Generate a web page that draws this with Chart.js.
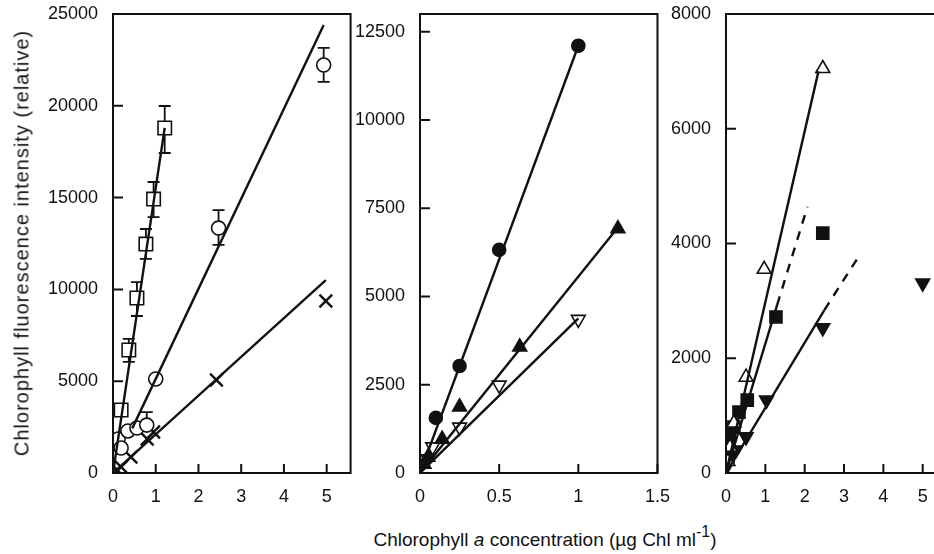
<!DOCTYPE html>
<html>
<head>
<meta charset="utf-8">
<script src="https://cdn.jsdelivr.net/npm/chart.js@4"></script>
<style>
  body { margin: 0; background: #fff; overflow: hidden; }
  #wrap { position: relative; width: 934px; height: 554px; overflow: hidden; font-family: "Liberation Sans", Arial, sans-serif; color: #111; }
  canvas { position: absolute; top: 0; }
  #ytitle { position: absolute; left: 22px; top: 243px; transform: translate(-50%, -50%) rotate(-90deg); white-space: nowrap; font-size: 20px; letter-spacing: 1px; }
  #xtitle { position: absolute; left: 545px; top: 525px; transform: translateX(-50%); white-space: nowrap; font-size: 19px; }
  #xtitle sup { font-size: 16px; position: relative; top: -2px; }
</style>
</head>
<body>
<div id="wrap">
  <canvas id="c1" width="362" height="510" style="left:0px"></canvas>
  <canvas id="c2" width="325" height="510" style="left:350px"></canvas>
  <canvas id="c3" width="285" height="510" style="left:660px"></canvas>
  <div id="ytitle">Chlorophyll fluorescence intensity (relative)</div>
  <div id="xtitle">Chlorophyll <i>a</i> concentration (µg Chl ml<sup>-1</sup>)</div>
</div>
<script>
// panel 1
var p1xTicks = [0, 1, 2, 3, 4, 5];
var p1yTicks = [0, 5000, 10000, 15000, 20000, 25000];
var sqX = [0.19, 0.37, 0.56, 0.77, 0.95, 1.21];
var sqY = [3430, 6700, 9530, 12470, 14920, 18790];
var sqHi = [null, 7300, 10400, 13290, 15850, 19990];
var sqLo = [null, 6050, 8550, 11660, 13940, 17430];
var ciX = [0.12, 0.19, 0.35, 0.56, 0.79, 1.0, 2.47, 4.93];
var ciY = [1850, 1360, 2290, 2450, 2610, 5120, 13340, 22220];
var ciHi = [null, null, null, null, 3320, null, 14320, 23150];
var ciLo = [null, null, null, null, null, null, 12420, 21300];
var crX = [0.1, 0.19, 0.42, 0.8, 0.95, 2.42, 4.98];
var crY = [160, 330, 870, 1850, 2230, 5070, 9370];
var sqFitX = [0, 1.21], sqFitY = [0, 18800];
var ciFitX = [0.45, 4.93], ciFitY = [2430, 24400];
var crFitX = [0, 4.98], crFitY = [0, 10500];

// panel 2
var p2xTicks = [0, 0.5, 1, 1.5];
var p2yTicks = [0, 2500, 5000, 7500, 10000, 12500];
var fcX = [0.1, 0.25, 0.5, 1.0];
var fcY = [1560, 3030, 6320, 12100];
var ftX = [0.025, 0.05, 0.14, 0.25, 0.63, 1.25];
var ftY = [250, 450, 960, 1870, 3570, 6920];
var odX = [0.05, 0.08, 0.25, 0.5, 1.0];
var odY = [400, 740, 1300, 2490, 4350];
var fcFitX = [0, 1.0], fcFitY = [0, 12100];
var ftFitX = [0, 1.25], ftFitY = [0, 6950];
var odFitX = [0, 1.0], odFitY = [0, 4380];

// panel 3
var p3xTicks = [0, 1, 2, 3, 4, 5];
var p3yTicks = [0, 2000, 4000, 6000, 8000];
var otX = [0.05, 0.1, 0.2, 0.51, 0.97, 2.46];
var otY = [200, 450, 870, 1670, 3550, 7050];
var fsX = [0.04, 0.08, 0.2, 0.33, 0.54, 1.27, 2.46];
var fsY = [280, 570, 800, 1060, 1270, 2720, 4180];
var fdX = [0.03, 0.1, 0.25, 0.51, 1.03, 2.46, 5.0];
var fdY = [130, 250, 400, 630, 1270, 2530, 3310];
var otFitX = [0, 2.35], otFitY = [0, 7000];
var fsFitX = [0, 1.3], fsFitY = [0, 2930];
var fsDashX = [1.3, 2.07], fsDashY = [2930, 4640];
var fdFitX = [0, 2.5], fdFitY = [0, 2840];
var fdDashX = [2.5, 3.36], fdDashY = [2840, 3760];

function pts(xs, ys) {
  return xs.map(function (x, i) { return { x: x, y: ys[i] }; });
}

function markers(xs, ys, style, r, fill, extra) {
  var ds = {
    type: "scatter",
    data: pts(xs, ys),
    pointStyle: style,
    pointRadius: r,
    pointHoverRadius: r,
    pointBackgroundColor: fill,
    pointBorderColor: "#111",
    pointBorderWidth: 1.6,
    showLine: false
  };
  return Object.assign(ds, extra || {});
}

function fit(xs, ys, dash) {
  return {
    type: "line",
    data: pts(xs, ys),
    borderColor: "#111",
    borderWidth: 2.4,
    borderDash: dash || [],
    pointRadius: 0,
    fill: false
  };
}

// box + inward tick marks, plus error bars
var framePlugin = {
  id: "frame",
  beforeDatasetsDraw: function (chart) {
    var ctx = chart.ctx, xs = chart.scales.x, ys = chart.scales.y;
    chart.data.datasets.forEach(function (ds) {
      if (!ds.errHi) return;
      ctx.save();
      ctx.strokeStyle = "#111";
      ctx.lineWidth = 1.8;
      ds.data.forEach(function (p, i) {
        var px = xs.getPixelForValue(p.x), py = ys.getPixelForValue(p.y);
        [ds.errHi[i], ds.errLo[i]].forEach(function (v) {
          if (v == null) return;
          var ey = ys.getPixelForValue(v);
          ctx.beginPath();
          ctx.moveTo(px, py);
          ctx.lineTo(px, ey);
          ctx.moveTo(px - 6, ey);
          ctx.lineTo(px + 6, ey);
          ctx.stroke();
        });
      });
      ctx.restore();
    });
  },
  afterDraw: function (chart, args, opts) {
    var ctx = chart.ctx, a = chart.chartArea;
    var xs = chart.scales.x, ys = chart.scales.y;
    ctx.save();
    ctx.strokeStyle = "#111";
    ctx.lineWidth = 2;
    ctx.beginPath();
    if (!opts.openRight) {
      ctx.moveTo(a.left, a.top);
      ctx.lineTo(a.left, a.bottom);
      ctx.lineTo(a.right, a.bottom);
      ctx.lineTo(a.right, a.top);
      ctx.closePath();
    } else {
      ctx.moveTo(chart.width, a.top);
      ctx.lineTo(a.left, a.top);
      ctx.lineTo(a.left, a.bottom);
      ctx.lineTo(chart.width, a.bottom);
    }
    ctx.stroke();
    ctx.beginPath();
    xs.ticks.forEach(function (t) {
      var x = xs.getPixelForValue(t.value);
      ctx.moveTo(x, a.bottom);
      ctx.lineTo(x, a.bottom - 9);
    });
    ys.ticks.forEach(function (t) {
      var y = ys.getPixelForValue(t.value);
      ctx.moveTo(a.left, y);
      ctx.lineTo(a.left + 10, y);
    });
    ctx.stroke();
    ctx.restore();
  }
};

function makeChart(id, datasets, xMax, yMax, xTicks, yTicks, yWidth, padRight, openRight) {
  var font = { family: "'Liberation Sans', Arial, sans-serif", size: 18 };
  return new Chart(document.getElementById(id), {
    data: { datasets: datasets },
    plugins: [framePlugin],
    options: {
      responsive: false,
      animation: false,
      events: [],
      layout: { padding: { top: 14, right: padRight, left: 0, bottom: 0 } },
      plugins: {
        legend: { display: false },
        tooltip: { enabled: false },
        frame: { openRight: openRight }
      },
      scales: {
        x: {
          type: "linear",
          min: 0,
          max: xMax,
          grid: { display: false },
          border: { display: false },
          afterBuildTicks: function (s) { s.ticks = xTicks.map(function (v) { return { value: v }; }); },
          afterFit: function (s) { s.height = 37; },
          ticks: { autoSkip: false, maxRotation: 0, color: "#111", font: font, padding: 5,
            callback: function (v) { return String(v); } }
        },
        y: {
          type: "linear",
          min: 0,
          max: yMax,
          grid: { display: false },
          border: { display: false },
          afterBuildTicks: function (s) { s.ticks = yTicks.map(function (v) { return { value: v }; }); },
          afterFit: function (s) { s.width = yWidth; s.paddingTop = 0; s.paddingBottom = 0; },
          ticks: { autoSkip: false, color: "#111", font: font, padding: 7,
            callback: function (v) { return String(v); } }
        }
      }
    }
  });
}

makeChart("c1", [
  fit(sqFitX, sqFitY),
  fit(ciFitX, ciFitY),
  fit(crFitX, crFitY),
  markers(sqX, sqY, "rect", 9.5, "#fff", { errHi: sqHi, errLo: sqLo }),
  markers(ciX, ciY, "circle", 7, "#fff", { errHi: ciHi, errLo: ciLo }),
  markers(crX, crY, "crossRot", 9, "#111", { pointBorderWidth: 2.4 })
], 5.56, 25000, p1xTicks, p1yTicks, 113, 10, false);

makeChart("c2", [
  fit(fcFitX, fcFitY),
  fit(ftFitX, ftFitY),
  fit(odFitX, odFitY),
  markers(fcX, fcY, "circle", 6.5, "#111"),
  markers(ftX, ftY, "triangle", 8, "#111"),
  markers(odX, odY, "triangle", 8, "#fff", { pointRotation: 180 })
], 1.5, 13000, p2xTicks, p2yTicks, 70, 14, false);

makeChart("c3", [
  fit(otFitX, otFitY),
  fit(fsFitX, fsFitY),
  fit(fsDashX, fsDashY, [9, 8]),
  fit(fdFitX, fdFitY),
  fit(fdDashX, fdDashY, [9, 8]),
  markers(otX, otY, "triangle", 8, "#fff"),
  markers(fsX, fsY, "rect", 8.5, "#111"),
  markers(fdX, fdY, "triangle", 8, "#111", { pointRotation: 180 })
], 5.31, 8000, p3xTicks, p3yTicks, 66, 0, true);
</script>
</body>
</html>
